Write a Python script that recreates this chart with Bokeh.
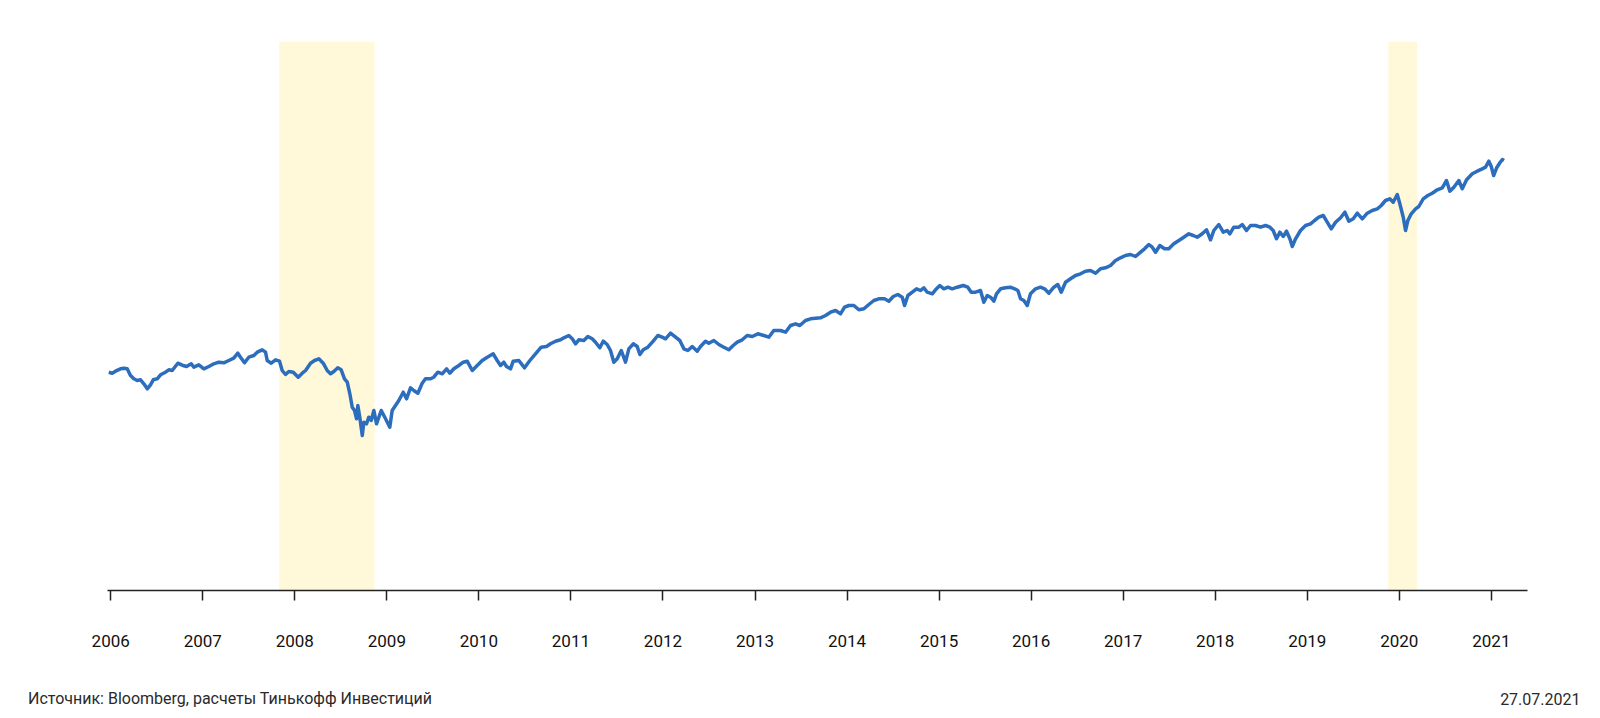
from bokeh.plotting import figure
from bokeh.models import BoxAnnotation, FixedTicker, Range1d
from bokeh.layouts import column
from bokeh.core.properties import value
from bokeh.embed import file_html
from bokeh.resources import INLINE

# ---- data (x in year units as on the chart's axis, y = index level) ----
years = [
    2005.979, 2006.016, 2006.052, 2006.106, 2006.142, 2006.179, 2006.215, 2006.251, 2006.288, 2006.324,
    2006.360, 2006.397, 2006.432, 2006.462, 2006.505, 2006.541, 2006.595, 2006.631, 2006.668, 2006.729,
    2006.777, 2006.824, 2006.875, 2006.903, 2006.957, 2007.012, 2007.066, 2007.120, 2007.174, 2007.229,
    2007.283, 2007.337, 2007.381, 2007.410, 2007.454, 2007.500, 2007.555, 2007.592, 2007.646, 2007.682,
    2007.700, 2007.744, 2007.791, 2007.834, 2007.863, 2007.899, 2007.935, 2007.983, 2008.037, 2008.081,
    2008.117, 2008.171, 2008.214, 2008.261, 2008.309, 2008.352, 2008.388, 2008.424, 2008.467, 2008.504,
    2008.540, 2008.570, 2008.598, 2008.624, 2008.649, 2008.671, 2008.685, 2008.706, 2008.733, 2008.750,
    2008.779, 2008.804, 2008.830, 2008.859, 2008.888, 2008.939, 2008.986, 2009.032, 2009.058, 2009.094,
    2009.130, 2009.178, 2009.214, 2009.257, 2009.293, 2009.337, 2009.384, 2009.420, 2009.475, 2009.510,
    2009.554, 2009.602, 2009.649, 2009.684, 2009.728, 2009.782, 2009.830, 2009.873, 2009.928, 2009.982,
    2010.036, 2010.091, 2010.156, 2010.199, 2010.235, 2010.271, 2010.300, 2010.344, 2010.373, 2010.434,
    2010.496, 2010.554, 2010.615, 2010.677, 2010.735, 2010.778, 2010.833, 2010.887, 2010.923, 2010.977,
    2011.014, 2011.050, 2011.086, 2011.140, 2011.184, 2011.231, 2011.267, 2011.314, 2011.351, 2011.394,
    2011.430, 2011.466, 2011.503, 2011.547, 2011.593, 2011.629, 2011.677, 2011.720, 2011.749, 2011.786,
    2011.836, 2011.894, 2011.944, 2011.992, 2012.028, 2012.082, 2012.137, 2012.183, 2012.227, 2012.270,
    2012.318, 2012.372, 2012.408, 2012.462, 2012.498, 2012.553, 2012.607, 2012.661, 2012.716, 2012.763,
    2012.807, 2012.861, 2012.915, 2012.970, 2013.031, 2013.096, 2013.150, 2013.204, 2013.277, 2013.332,
    2013.386, 2013.440, 2013.487, 2013.549, 2013.603, 2013.658, 2013.712, 2013.766, 2013.821, 2013.875,
    2013.929, 2013.973, 2014.020, 2014.074, 2014.128, 2014.183, 2014.237, 2014.291, 2014.345, 2014.407,
    2014.454, 2014.502, 2014.552, 2014.600, 2014.625, 2014.661, 2014.709, 2014.755, 2014.799, 2014.834,
    2014.871, 2014.926, 2014.961, 2015.008, 2015.052, 2015.095, 2015.143, 2015.197, 2015.262, 2015.312,
    2015.349, 2015.396, 2015.450, 2015.486, 2015.523, 2015.559, 2015.595, 2015.624, 2015.668, 2015.722,
    2015.776, 2015.820, 2015.856, 2015.885, 2015.921, 2015.958, 2015.993, 2016.048, 2016.102, 2016.146,
    2016.193, 2016.247, 2016.290, 2016.327, 2016.374, 2016.428, 2016.482, 2016.537, 2016.591, 2016.645,
    2016.700, 2016.754, 2016.808, 2016.863, 2016.917, 2016.971, 2017.025, 2017.080, 2017.134, 2017.189,
    2017.232, 2017.279, 2017.316, 2017.352, 2017.398, 2017.449, 2017.496, 2017.550, 2017.605, 2017.659,
    2017.713, 2017.761, 2017.805, 2017.859, 2017.906, 2017.949, 2017.985, 2018.039, 2018.087, 2018.131,
    2018.159, 2018.202, 2018.257, 2018.294, 2018.340, 2018.384, 2018.438, 2018.492, 2018.547, 2018.594,
    2018.630, 2018.666, 2018.702, 2018.739, 2018.775, 2018.811, 2018.837, 2018.873, 2018.927, 2018.982,
    2019.036, 2019.079, 2019.126, 2019.174, 2019.217, 2019.261, 2019.308, 2019.362, 2019.409, 2019.452,
    2019.500, 2019.543, 2019.598, 2019.652, 2019.706, 2019.761, 2019.804, 2019.850, 2019.897, 2019.934,
    2019.978, 2020.006, 2020.043, 2020.068, 2020.093, 2020.130, 2020.177, 2020.212, 2020.260, 2020.310,
    2020.358, 2020.412, 2020.467, 2020.513, 2020.549, 2020.593, 2020.647, 2020.684, 2020.731, 2020.793,
    2020.847, 2020.901, 2020.937, 2020.973, 2020.999, 2021.025, 2021.058, 2021.095, 2021.120, 2021.138,
]
index_values = [
    218.3, 217.3, 219.3, 221.7, 222.3, 221.7, 215.0, 211.7, 210.0, 210.7,
    206.7, 201.7, 205.7, 210.7, 211.7, 215.7, 218.3, 220.7, 220.0, 227.3,
    225.3, 224.0, 226.7, 223.3, 225.7, 221.7, 224.0, 226.7, 228.3, 227.7,
    230.0, 232.3, 237.3, 233.3, 227.7, 233.3, 235.0, 238.3, 240.7, 238.3,
    230.0, 227.3, 230.7, 229.3, 220.0, 216.0, 219.0, 218.3, 213.3, 217.3,
    220.0, 227.3, 230.0, 231.7, 227.3, 220.0, 216.7, 219.0, 222.7, 220.7,
    211.7, 208.3, 196.7, 183.3, 180.0, 171.7, 185.0, 173.3, 155.0, 168.3,
    166.7, 173.3, 170.0, 180.0, 166.7, 180.0, 171.7, 163.3, 180.0, 185.0,
    190.0, 198.3, 191.7, 202.7, 200.0, 197.3, 207.3, 211.7, 211.7, 213.3,
    218.3, 216.7, 221.7, 217.3, 221.7, 225.0, 228.3, 229.3, 220.0, 225.0,
    230.0, 233.3, 236.7, 230.0, 225.0, 228.3, 224.0, 221.7, 229.3, 230.0,
    222.7, 230.0, 236.7, 243.3, 244.0, 246.7, 249.3, 250.7, 252.7, 255.0,
    251.7, 246.7, 250.7, 250.0, 254.0, 251.7, 248.3, 242.7, 249.3, 246.0,
    240.0, 228.3, 231.7, 240.0, 228.3, 241.7, 246.7, 244.0, 236.0, 240.7,
    243.3, 249.3, 255.0, 253.3, 251.7, 257.3, 253.3, 250.0, 241.7, 240.0,
    244.0, 239.3, 244.0, 249.3, 247.3, 250.0, 246.0, 243.3, 240.7, 245.0,
    248.3, 250.7, 255.0, 254.0, 256.7, 255.0, 253.3, 260.0, 260.0, 258.3,
    265.0, 266.7, 265.0, 270.0, 271.7, 272.3, 272.7, 275.0, 278.3, 280.0,
    276.7, 283.3, 285.0, 285.0, 280.7, 281.7, 286.0, 290.0, 291.7, 291.7,
    289.3, 294.0, 296.0, 293.3, 285.0, 295.0, 298.3, 301.7, 300.0, 302.7,
    298.3, 296.7, 300.7, 305.0, 301.7, 303.3, 301.7, 303.3, 305.0, 303.3,
    298.3, 298.3, 300.0, 288.3, 295.0, 293.3, 289.3, 296.7, 301.7, 302.7,
    303.3, 301.7, 300.0, 291.7, 290.0, 285.0, 296.7, 301.7, 303.3, 301.7,
    297.3, 303.3, 306.0, 298.3, 308.3, 311.7, 315.0, 316.7, 319.3, 320.0,
    317.3, 321.7, 322.7, 325.0, 330.0, 332.7, 335.0, 336.0, 334.0, 338.3,
    341.7, 346.0, 343.3, 338.3, 345.0, 341.7, 341.7, 346.7, 350.0, 353.3,
    356.7, 355.0, 353.3, 356.7, 360.7, 350.7, 360.0, 366.0, 358.3, 360.0,
    356.7, 363.3, 363.3, 366.0, 360.0, 365.0, 365.0, 363.3, 365.0, 363.3,
    360.0, 351.7, 358.3, 354.0, 359.3, 351.7, 344.0, 351.7, 360.0, 365.0,
    366.7, 370.0, 373.3, 375.0, 368.3, 361.7, 368.3, 372.7, 378.3, 369.3,
    371.7, 377.3, 371.7, 377.3, 380.0, 381.7, 385.0, 390.0, 391.7, 388.3,
    396.0, 386.7, 373.3, 360.0, 370.0, 376.7, 381.7, 384.0, 391.7, 395.0,
    397.3, 400.7, 402.7, 410.0, 399.3, 403.3, 410.0, 401.7, 410.7, 416.7,
    419.3, 421.7, 423.3, 429.3, 424.0, 415.0, 422.7, 428.0, 431.0, 430.0,
]

# shaded periods (crises)
shade_start = [2007.83, 2019.88]
shade_end = [2008.866, 2020.195]

tick_years = list(range(2006, 2022))
tick_labels = [str(y) for y in tick_years]

source_text = "Источник: Bloomberg, расчеты Тинькофф Инвестиций"
date_text = "27.07.2021"

FONT = "Roboto"

# ---- main chart ----
p = figure(
    width=1600, height=660,
    output_backend="svg", toolbar_location=None,
    x_range=Range1d(2005.965, 2021.393),
    y_range=Range1d(0, 549),
    min_border_left=107, min_border_right=73,
    min_border_top=41, min_border_bottom=70,
    y_axis_location=None,
)
p.frame_align = False
p.outline_line_color = None
p.background_fill_color = "white"
p.border_fill_color = "white"
p.xgrid.grid_line_color = None
p.ygrid.grid_line_color = None

for s, e in zip(shade_start, shade_end):
    p.add_layout(BoxAnnotation(left=s, right=e, fill_color="#fff9da", fill_alpha=1.0,
                               line_color=None, level="underlay"))

p.line(years, index_values, line_color="#2c6dbd", line_width=3.5, line_join="round")

ax = p.xaxis[0]
ax.ticker = FixedTicker(ticks=tick_years)
ax.major_label_overrides = {t: l for t, l in zip(tick_years, tick_labels)}
ax.axis_line_color = "#222222"
ax.axis_line_width = 1.5
ax.major_tick_line_color = "#222222"
ax.major_tick_line_width = 1.5
ax.major_tick_in = 0
ax.major_tick_out = 10
ax.minor_tick_line_color = None
ax.major_label_standoff = 34
ax.major_label_text_font = FONT
ax.major_label_text_font_size = "17px"
ax.major_label_text_color = "#111111"

# ---- footer strip (source + date) ----
f = figure(
    width=1600, height=58,
    output_backend="svg", toolbar_location=None,
    x_range=Range1d(0, 1600), y_range=Range1d(0, 58),
    min_border_left=0, min_border_right=0, min_border_top=0, min_border_bottom=0,
    x_axis_location=None, y_axis_location=None,
)
f.frame_align = False
f.outline_line_color = None
f.background_fill_color = "white"
f.border_fill_color = "white"
f.xgrid.grid_line_color = None
f.ygrid.grid_line_color = None

f.text(x=[27.5], y=[20], text=[source_text], text_font=value(FONT), text_font_size="16px",
       text_color="#2a2a2a", text_baseline="middle", text_align="left")
f.text(x=[1580], y=[20], text=[date_text], text_font=value(FONT), text_font_size="16px",
       text_color="#2a2a2a", text_baseline="middle", text_align="right")

layout = column(p, f, spacing=0)
open("out.html", "w").write(file_html(layout, INLINE))
